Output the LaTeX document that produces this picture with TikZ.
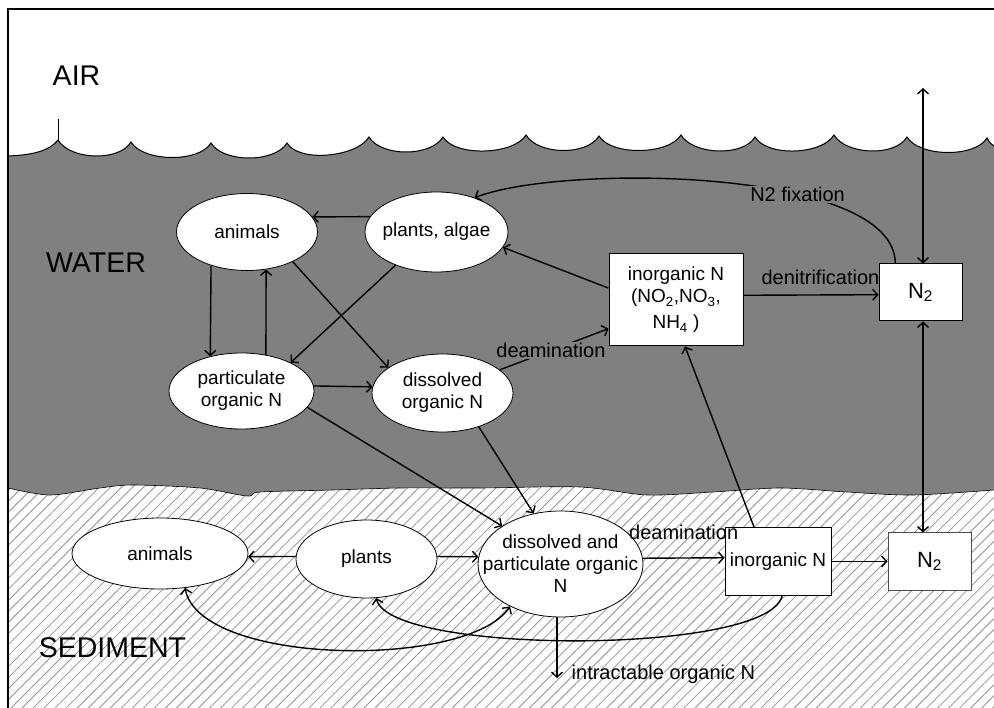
\documentclass[tikz,border=0pt]{standalone}
\usepackage{fontspec}
\setmainfont{Liberation Sans}
\usepackage{tikz}
\usetikzlibrary{arrows.meta}
\usetikzlibrary{patterns.meta}
\usetikzlibrary{shapes.geometric}

\begin{document}
\begin{tikzpicture}[x=1pt,y=-1pt,
  >={Straight Barb[length=5pt,width=11pt]},
  oval/.style={ellipse,draw,fill=white,line width=0.8pt,inner xsep=-30pt,inner ysep=-12pt,align=center,font=\fontsize{19}{22}\selectfont},
  box/.style={rectangle,draw,fill=white,line width=1pt,inner sep=0pt,align=center,font=\fontsize{19}{22}\selectfont},
  flow/.style={line width=1.4pt},
  lab/.style={inner sep=1pt,font=\fontsize{20}{22}\selectfont},
  wetlab/.style={lab,fill=gray},
  region/.style={inner sep=0pt,font=\fontsize{28.5}{30}\selectfont}]
\useasboundingbox (0,0) rectangle (994,708);

%% water with the waves on top
\fill[gray] (8,156) .. controls (35,155) and (50,150) .. (58,140)
  \foreach \b/\h in {131/142,211/143,287/143,369/137,443/137,526/135,599/136,681/135,755/137,834/135,907/137,987/138}
    { .. controls +(12,20) and +(-12,20) .. (\b,\h) }
  .. controls (990,143) .. (994,146) -- (994,520) -- (8,520) -- cycle;
\draw[line width=1pt] (8,156) .. controls (35,155) and (50,150) .. (58,140)
  \foreach \b/\h in {131/142,211/143,287/143,369/137,443/137,526/135,599/136,681/135,755/137,834/135,907/137,987/138}
    { .. controls +(12,20) and +(-12,20) .. (\b,\h) }
  .. controls (990,143) .. (994,146);
\draw[line width=0.8pt] (58,119) -- (58,140);

%% sediment
\path[preaction={fill=white},pattern={Lines[angle=45,distance=7.8pt,line width=0.8pt]},pattern color=gray!85]
  plot[smooth,tension=0.5] coordinates {(8,488) (50,495) (100,488) (133,485) (200,488) (247,496) (260,492) (333,490) (400,488) (480,488) (580,487) (647,495) (713,492) (780,488) (847,492) (913,495) (994,490)}
  -- (994,708) -- (8,708) -- cycle;
\draw[line width=0.6pt] plot[smooth,tension=0.5] coordinates {(8,488) (50,495) (100,488) (133,485) (200,488) (247,496) (260,492) (333,490) (400,488) (480,488) (580,487) (647,495) (713,492) (780,488) (847,492) (913,495) (994,490)};

\draw[line width=1.2pt] (994,9) -- (8,9) -- (8,708);

\node[region] (air) at (76.5,76) {AIR};
\node[region] (water) at (96,263) {WATER};
\node[region] (sediment) at (112.5,648) {SEDIMENT};

%% water column
\node[oval,minimum width=141,minimum height=77] (wanim) at (247,232) {animals};
\node[oval,minimum width=143,minimum height=80] (walg) at (436.5,232) {plants, algae};
\node[oval,minimum width=145,minimum height=76] (wpart) at (241.5,391) {particulate\\organic N};
\node[oval,minimum width=141,minimum height=78] (wdis) at (442.5,393) {dissolved\\organic N};
\node[box,minimum width=134,minimum height=92] (winorg) at (676,300) {inorganic N\\(NO\textsubscript{2},NO\textsubscript{3},\\[4pt]NH\textsubscript{4} )};
\node[box,minimum width=83,minimum height=57,font=\fontsize{22}{24}\selectfont] (wn2) at (920.5,292.5) {N\textsubscript{2}};

%% sediment
\node[oval,minimum width=176,minimum height=71] (sanim) at (160,553.5) {animals};
\node[oval,minimum width=141,minimum height=78] (splant) at (366.5,559) {plants};
\node[oval,minimum width=165,minimum height=106] (sdp) at (560.5,564) {dissolved and\\particulate organic\\N};
\node[box,minimum width=106,minimum height=67] (sinorg) at (778,561.5) {\raisebox{4pt}{inorganic N}};
\node[box,draw=black!70,minimum width=83,minimum height=57,font=\fontsize{22}{24}\selectfont] (sn2) at (929.5,561.5) {N\textsubscript{2}};

\coordinate (sky) at (923,88);
\coordinate (sink) at (557,678);

\draw[flow,->] (walg.167) -- (wanim.13);
\draw[flow,->] (wanim.223) -- (wpart.132);
\draw[flow,->] (wpart.56) -- (wanim.297);
\draw[flow,->] (wanim.327) -- (wdis.155);
\draw[flow,->] (walg.219) -- (wpart.30);
\draw[flow,->] (wpart.4) -- (wdis.175);
\draw[flow,->] (wdis.22) -- (winorg.203) node[wetlab,pos=0.47] {deamination};
\draw[flow,->] (winorg.170) -- (walg.347);
\draw[flow,->] (winorg.4) -- (wn2.183) node[lab,pos=0.57,above=9pt] {denitrification};
\draw[flow,->] (wn2.131) .. controls +(0,-96) and +(87,-34) .. (walg.42) node[wetlab,pos=0.35] {N2 fixation};
\draw[flow,<->] (sky) -- (sky |- wn2.north);
\draw[flow,<->] (wn2.south -| sky) -- (sn2.north -| sky);
\draw[flow,->] (wpart.346) -- (sdp.147);
\draw[flow,->] (wdis.317) -- (sdp.118);
\draw[flow,->] (sinorg.125) -- (winorg.281);

\draw[flow,->] (sdp.4) -- (sinorg.176) node[lab,midway,above=17pt] {deamination};
\draw[flow,->] (sinorg.east) -- (sn2.west);
\draw[flow,->] (splant.178) -- (sanim.358);
\draw[flow,->] (splant.2) -- (sdp.175);
\draw[flow,->] (sdp.south -| sink) -- (sink) node[lab,right=13pt,yshift=4pt] {intractable organic N};
\draw[flow,<->] (sanim.306) .. controls +(15,78) and +(-42,63) .. (sdp.220);
\draw[flow,->] (sinorg.277) .. controls +(-12,60) and +(14,57) .. (splant.284);
\end{tikzpicture}
\end{document}
